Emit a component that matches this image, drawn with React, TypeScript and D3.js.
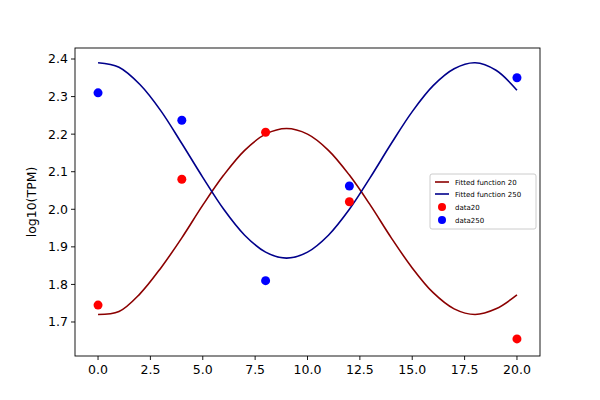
import * as d3 from "d3";

// fitted curves, sampled at x = 0..20
const fitX = d3.range(0, 21);
const fit20 = [1.72, 1.728, 1.775, 1.844, 1.924, 2.011, 2.091, 2.157, 2.2, 2.215, 2.2, 2.157, 2.091, 2.011, 1.924, 1.844, 1.778, 1.735, 1.72, 1.735, 1.772];
const fit250 = [2.39, 2.378, 2.332, 2.262, 2.175, 2.085, 2.0, 1.931, 1.886, 1.87, 1.886, 1.931, 2.0, 2.085, 2.175, 2.26, 2.329, 2.374, 2.39, 2.37, 2.317];

const dataX = [0, 4, 8, 12, 20];
const data20 = [1.745, 2.08, 2.205, 2.02, 1.655];
const data250 = [2.31, 2.237, 1.81, 2.062, 2.35];

const xTicks = [0, 2.5, 5, 7.5, 10, 12.5, 15, 17.5, 20];
const yTicks = [1.7, 1.8, 1.9, 2.0, 2.1, 2.2, 2.3, 2.4];

const W = 600, H = 400;
const L = 75, R = 540, T = 48, B = 356;

export default function App() {
  const x = d3.scaleLinear([-1.1, 21.1], [L, R]);
  const y = d3.scaleLinear([1.6095, 2.4293], [B, T]);
  const line = d3.line<number>((_, i) => x(fitX[i]), (d) => y(d)).curve(d3.curveCatmullRom);
  const font = "DejaVu Sans, sans-serif";
  return (
    <svg width={W} height={H} style={{ position: "absolute", left: 0, top: 0, background: "white" }} fontFamily={font}>
      <path d={line(fit20) || undefined} fill="none" stroke="#8b0000" strokeWidth={1.6} />
      <path d={line(fit250) || undefined} fill="none" stroke="#00008b" strokeWidth={1.6} />
      {dataX.map((d, i) => (
        <circle key={"r" + i} cx={x(d)} cy={y(data20[i])} r={4.5} fill="red" />
      ))}
      {dataX.map((d, i) => (
        <circle key={"b" + i} cx={x(d)} cy={y(data250[i])} r={4.5} fill="blue" />
      ))}
      <rect x={L} y={T} width={R - L} height={B - T} fill="none" stroke="black" strokeWidth={0.9} />
      {xTicks.map((t) => (
        <g key={t} transform={`translate(${x(t)},${B})`}>
          <line y2={4} stroke="black" strokeWidth={0.9} />
          <text y={18} textAnchor="middle" fontSize={12.5}>{t.toFixed(1)}</text>
        </g>
      ))}
      {yTicks.map((t) => (
        <g key={t} transform={`translate(${L},${y(t)})`}>
          <line x2={-4} stroke="black" strokeWidth={0.9} />
          <text x={-7} dy="0.35em" textAnchor="end" fontSize={12.5}>{t.toFixed(1)}</text>
        </g>
      ))}
      <text transform={`translate(36,${(T + B) / 2}) rotate(-90)`} textAnchor="middle" fontSize={12.5}>log10(TPM)</text>
      <g transform="translate(430,174)" fontSize={7}>
        <rect width={106} height={55} fill="white" stroke="#ccc" rx={2} />
        <line x1={5} x2={19} y1={8} y2={8} stroke="#8b0000" strokeWidth={1.6} />
        <text x={25} y={10.5}>Fitted function 20</text>
        <line x1={5} x2={19} y1={20} y2={20} stroke="#00008b" strokeWidth={1.6} />
        <text x={25} y={22.5}>Fitted function 250</text>
        <circle cx={12} cy={33} r={4} fill="red" />
        <text x={25} y={35.5}>data20</text>
        <circle cx={12} cy={46} r={4} fill="blue" />
        <text x={25} y={48.5}>data250</text>
      </g>
    </svg>
  );
}
